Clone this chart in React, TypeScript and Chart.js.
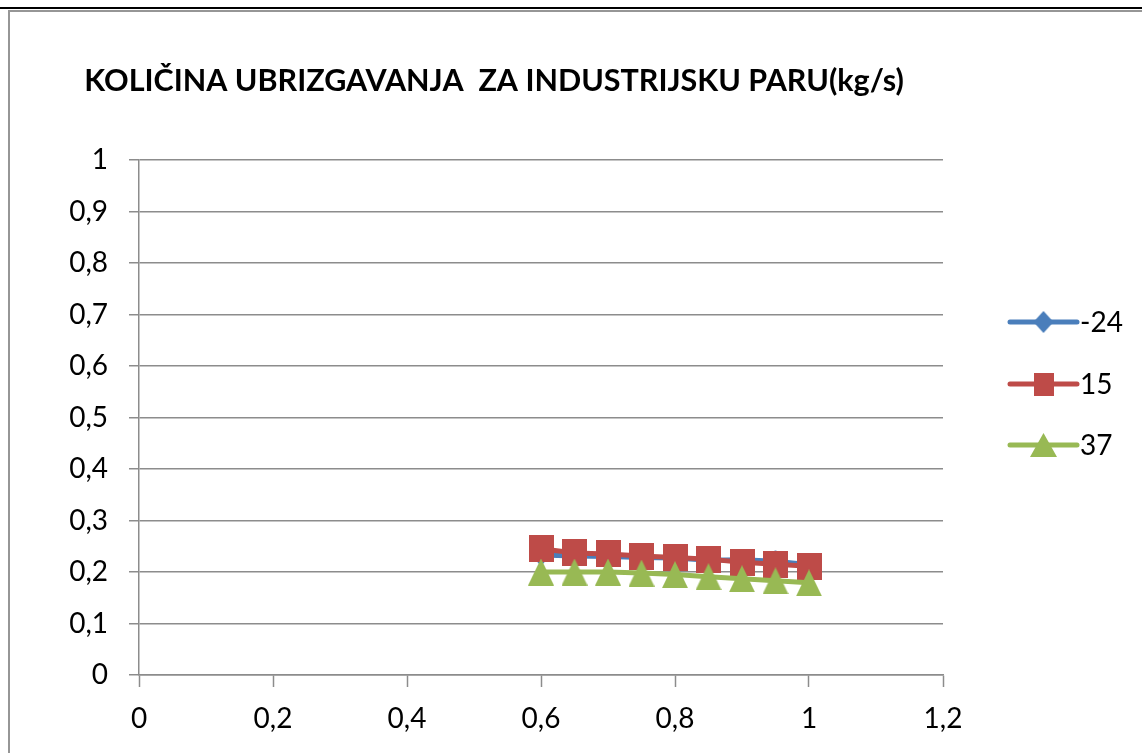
import { useEffect, useRef } from 'react';
import { Chart, registerables } from 'chart.js';

Chart.register(...registerables);

// Injection-rate series for industrial steam, one per ambient temperature
const TITLE = 'KOLIČINA UBRIZGAVANJA  ZA INDUSTRIJSKU PARU(kg/s)';
const xValues = [0.6, 0.65, 0.7, 0.75, 0.8, 0.85, 0.9, 0.95, 1.0];
const seriesNames = ['-24', '15', '37'];
const seriesMinus24 = [0.233, 0.231, 0.23, 0.228, 0.227, 0.223, 0.224, 0.221, 0.214];
const series15 = [0.245, 0.237, 0.235, 0.231, 0.228, 0.225, 0.219, 0.215, 0.211];
const series37 = [0.2, 0.2, 0.2, 0.198, 0.195, 0.191, 0.187, 0.183, 0.179];
const seriesColors = ['#4A7EBB', '#BE4B48', '#98B954'];
const seriesShapes = ['diamond', 'square', 'triangle'];
const xAxisMin = 0;
const xAxisMax = 1.2;
const xAxisStep = 0.2;
const yAxisMin = 0;
const yAxisMax = 1;
const yAxisStep = 0.1;

const FONT = 'Lato, "Open Sans", sans-serif';
const AXIS_GRAY = '#8c8c8c';

function makeMarker(shape: string, color: string, w: number, h: number): HTMLCanvasElement {
  const c = document.createElement('canvas');
  c.width = w;
  c.height = h;
  const g = c.getContext('2d')!;
  g.fillStyle = color;
  g.beginPath();
  if (shape === 'diamond') {
    g.moveTo(w / 2, 0);
    g.lineTo(w, h / 2);
    g.lineTo(w / 2, h);
    g.lineTo(0, h / 2);
  } else if (shape === 'square') {
    g.rect(0, 0, w, h);
  } else {
    g.moveTo(w / 2, 0);
    g.lineTo(w, h);
    g.lineTo(0, h);
  }
  g.closePath();
  g.fill();
  return c;
}

const plotMarkerSize: Record<string, [number, number]> = {
  diamond: [20, 22],
  square: [25, 27],
  triangle: [26, 27],
};
const legendMarkerSize: Record<string, [number, number]> = {
  diamond: [20, 22],
  square: [20, 23],
  triangle: [27, 24],
};

const formatTick = (v: number | string) =>
  String(Number(Number(v).toFixed(1))).replace('.', ',');

// Legend drawn to the right of the plot: a line with the series marker on it
const sideLegend = {
  id: 'sideLegend',
  afterDraw(chart: Chart) {
    const ctx = chart.ctx;
    const lineX0 = 1010;
    const lineX1 = 1077;
    const rowY = [322, 384, 445];
    ctx.save();
    chart.data.datasets.forEach((ds: any, i: number) => {
      const y = rowY[i];
      ctx.strokeStyle = ds.borderColor;
      ctx.lineWidth = 5;
      ctx.lineCap = 'round';
      ctx.beginPath();
      ctx.moveTo(lineX0, y);
      ctx.lineTo(lineX1, y);
      ctx.stroke();
      const shape = seriesShapes[i];
      const [w, h] = legendMarkerSize[shape];
      const m = makeMarker(shape, ds.borderColor, w, h);
      ctx.drawImage(m, (lineX0 + lineX1) / 2 - w / 2, y - h / 2);
      ctx.fillStyle = '#000';
      ctx.font = `28px ${FONT}`;
      ctx.textAlign = 'left';
      ctx.textBaseline = 'middle';
      ctx.fillText(ds.label, 1080, y + 1);
    });
    ctx.restore();
  },
};

export default function App() {
  const canvasRef = useRef<HTMLCanvasElement | null>(null);

  useEffect(() => {
    const canvas = canvasRef.current;
    if (!canvas) return;
    const seriesValues = [seriesMinus24, series15, series37];
    const datasets = seriesValues.map((vals, i) => {
      const shape = seriesShapes[i];
      const [w, h] = plotMarkerSize[shape];
      return {
        label: seriesNames[i],
        data: xValues.map((x, k) => ({ x, y: vals[k] })),
        borderColor: seriesColors[i],
        backgroundColor: seriesColors[i],
        borderWidth: 5,
        pointStyle: makeMarker(shape, seriesColors[i], w, h),
        pointRadius: 12,
        showLine: true,
        tension: 0,
        order: 3 - i,
      };
    });

    const chart = new Chart(canvas, {
      type: 'scatter',
      data: { datasets },
      plugins: [sideLegend],
      options: {
        animation: false,
        responsive: false,
        devicePixelRatio: 1,
        layout: { padding: { left: 45, right: 199, top: 0, bottom: 0 } },
        plugins: {
          legend: { display: false },
          tooltip: { enabled: false },
          title: {
            display: true,
            text: TITLE,
            align: 'center',
            color: '#000',
            font: { family: FONT, size: 30.5, weight: 'bold', lineHeight: 1.2 },
            padding: { top: 63, bottom: 60.4 },
          },
        },
        scales: {
          x: {
            type: 'linear',
            min: xAxisMin,
            max: xAxisMax,
            afterFit: (s: any) => {
              s.height = 78;
            },
            ticks: {
              stepSize: xAxisStep,
              color: '#000',
              font: { family: FONT, size: 28 },
              padding: 15,
              callback: (v: any) => formatTick(v),
            },
            grid: {
              drawOnChartArea: false,
              tickLength: 12,
              tickColor: AXIS_GRAY,
              tickWidth: 1.5,
            },
            border: { color: AXIS_GRAY, width: 1.5 },
          },
          y: {
            type: 'linear',
            min: yAxisMin,
            max: yAxisMax,
            afterFit: (s: any) => {
              s.width = 94;
            },
            ticks: {
              stepSize: yAxisStep,
              color: '#000',
              font: { family: FONT, size: 28 },
              padding: 21,
              callback: (v: any) => formatTick(v),
            },
            grid: {
              color: AXIS_GRAY,
              lineWidth: 1.5,
              tickLength: 10,
              tickColor: AXIS_GRAY,
            },
            border: { color: AXIS_GRAY, width: 1.5 },
          },
        },
      },
    } as any);

    return () => chart.destroy();
  }, []);

  return (
    <div
      style={{
        position: 'fixed',
        left: 0,
        top: 0,
        width: 1142,
        height: 753,
        background: '#fff',
        overflow: 'hidden',
      }}
    >
      <div style={{ position: 'absolute', left: 0, top: 7, width: 1142, height: 2, background: '#000' }} />
      <div
        style={{
          position: 'absolute',
          left: 8,
          top: 10,
          width: 1200,
          height: 800,
          borderLeft: '2px solid #969696',
          borderTop: '2px solid #969696',
        }}
      />
      <canvas
        ref={canvasRef}
        width={1142}
        height={753}
        style={{ position: 'absolute', left: 0, top: 0, width: 1142, height: 753 }}
      />
    </div>
  );
}
